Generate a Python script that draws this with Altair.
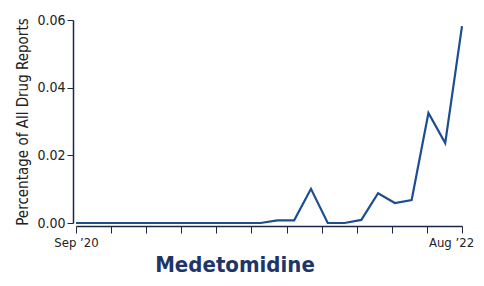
import altair as alt
import pandas as pd

months = ["Sep '20", "Oct '20", "Nov '20", "Dec '20", "Jan '21", "Feb '21", "Mar '21", "Apr '21",
          "May '21", "Jun '21", "Jul '21", "Aug '21", "Sep '21", "Oct '21", "Nov '21", "Dec '21",
          "Jan '22", "Feb '22", "Mar '22", "Apr '22", "May '22", "Jun '22", "Jul '22", "Aug '22"]
values = [0.0, 0.0, 0.0, 0.0, 0.0, 0.0, 0.0, 0.0, 0.0, 0.0, 0.0, 0.0,
          0.0008, 0.0008, 0.0101, 0.0, 0.0, 0.0009, 0.0088, 0.0059, 0.0068, 0.0325, 0.0236, 0.0582]
y_ticks = [0.0, 0.02, 0.04, 0.06]
n_x_ticks = 12

df = pd.DataFrame({"idx": list(range(len(months))), "month": months, "value": values})
last = len(months) - 1
x_ticks = [last * k / (n_x_ticks - 1) for k in range(n_x_ticks)]

FONT = "DejaVu Sans Condensed"
AXIS = "#1b2744"

chart = alt.Chart(df).mark_line(color="#1d4e8f", strokeWidth=2.2).encode(
    x=alt.X("idx:Q", scale=alt.Scale(domain=[0, last], nice=False, zero=False),
            axis=alt.Axis(values=x_ticks, title=None, grid=False, offset=3,
                          labelExpr=f"datum.value == 0 ? 'Sep \u201920' : (abs(datum.value - {last}) < 0.01 ? 'Aug \u201922' : '')",
                          labelOffset={"condition": {"test": f"datum.value > {last - 1}", "value": -11}, "value": 0},
                          tickSize=7, labelPadding=3, labelFontSize=13, labelFont=FONT,
                          labelColor="#222222", domainColor=AXIS, tickColor=AXIS, domainWidth=1.5,
                          labelFlush=False, labelOverlap=False)),
    y=alt.Y("value:Q", scale=alt.Scale(domain=[0, 0.06], nice=False),
            axis=alt.Axis(values=y_ticks, format=".2f", title="Percentage of All Drug Reports",
                          grid=False, offset=3, tickSize=6, labelPadding=2, labelFontSize=14,
                          labelFont=FONT, labelColor="#222222", titleFont=FONT, titleFontSize=15,
                          titleFontWeight="normal", titleColor="#222222", titlePadding=6,
                          domainColor=AXIS, tickColor=AXIS, domainWidth=1.5)),
).properties(
    width=386, height=203,
    title=alt.TitleParams("Medetomidine", orient="bottom", anchor="middle", dx=-34, offset=6,
                          font=FONT, fontSize=22, fontWeight="bold", color="#1f3468"),
    autosize=alt.AutoSizeParams(type="none"),
    padding={"left": 68, "top": 12, "right": 14, "bottom": 55},
).configure_view(stroke=None)

chart.save("out.html", embed_options={"renderer": "svg", "actions": False})
